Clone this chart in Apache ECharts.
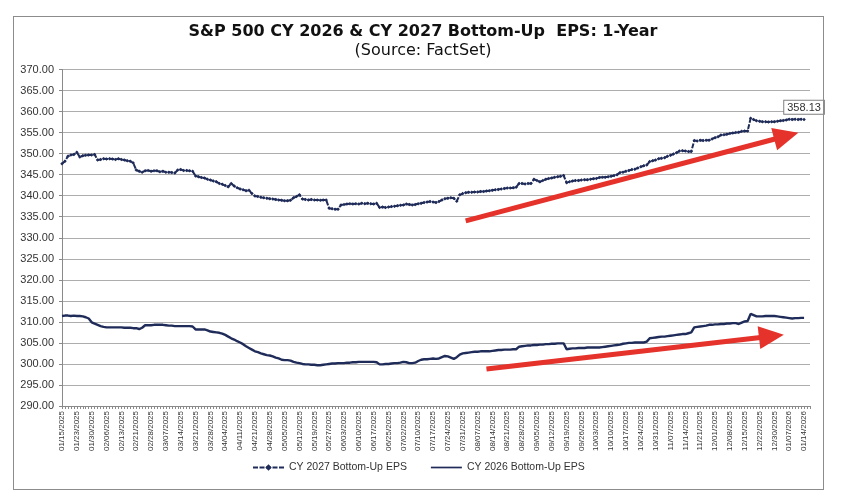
<!DOCTYPE html>
<html>
<head>
<meta charset="utf-8">
<script src="https://cdn.jsdelivr.net/npm/echarts@6/dist/echarts.min.js"></script>
<style>
  html, body { margin: 0; padding: 0; background: #fff; }
  #wrap { position: relative; width: 846px; height: 495px; }
  #chart { position: absolute; left: 0; top: 0; width: 846px; height: 495px; }
  #frame { position: absolute; left: 13px; top: 16px; width: 809px; height: 472px; border: 1px solid #8c8c8c; pointer-events: none; }
</style>
</head>
<body>
<div id="wrap"><div id="chart"></div><div id="frame"></div></div>
<script>
// ---- Data ----
const titleText = 'S&P 500 CY 2026 & CY 2027 Bottom-Up  EPS: 1-Year';
const subtitleText = '(Source: FactSet)';
const seriesNames = ['CY 2027 Bottom-Up EPS', 'CY 2026 Bottom-Up EPS'];

// NYSE trading days from 01/15/2025; holidays skipped
const startDate = [2025, 0, 15];
const categoryCount = 253;
const marketHolidays = ['2025-01-20','2025-02-17','2025-04-18','2025-05-26','2025-06-19','2025-07-04',
  '2025-09-01','2025-11-27','2025-12-25','2026-01-01','2026-01-19'];

const eps2027 = [
  347.6, 348.2, 349.4, 349.7, 349.8, 350.3, 349.2, 349.5, 349.6, 349.7,
  349.7, 349.8, 348.5, 348.6, 348.8, 348.7, 348.8, 348.7, 348.6, 348.8,
  348.6, 348.5, 348.3, 348.2, 347.8, 346.1, 345.8, 345.6, 345.9, 346.0,
  345.8, 345.9, 345.9, 345.7, 345.8, 345.6, 345.6, 345.5, 345.4, 346.1,
  346.2, 346.0, 346.0, 345.9, 345.8, 344.7, 344.5, 344.3, 344.2, 343.9,
  343.7, 343.5, 343.3, 342.9, 342.7, 342.4, 342.1, 342.9, 342.3, 341.9,
  341.6, 341.4, 341.2, 341.3, 340.5, 339.9, 339.8, 339.6, 339.5, 339.4,
  339.3, 339.2, 339.1, 339.0, 338.9, 338.8, 338.8, 338.9, 339.5, 339.8,
  340.2, 339.2, 339.1, 339.0, 339.1, 339.0, 339.0, 338.9, 339.0, 339.0,
  337.0, 336.9, 336.8, 336.8, 337.8, 337.9, 338.0, 338.1, 338.0, 338.1,
  338.0, 338.2, 338.1, 338.2, 338.1, 338.0, 338.2, 337.2, 337.3, 337.2,
  337.3, 337.4, 337.5, 337.6, 337.7, 337.8, 338.0, 337.9, 337.8, 337.9,
  338.1, 338.2, 338.4, 338.5, 338.6, 338.5, 338.4, 338.6, 339.0, 339.3,
  339.4, 339.5, 339.4, 338.7, 340.2, 340.5, 340.7, 340.8, 340.8, 340.9,
  340.9, 341.0, 341.0, 341.1, 341.2, 341.3, 341.4, 341.5, 341.6, 341.7,
  341.8, 341.8, 341.9, 342.0, 342.9, 342.9, 342.8, 342.9, 342.9, 343.9,
  343.6, 343.3, 343.6, 343.9, 344.1, 344.2, 344.4, 344.5, 344.6, 344.8,
  343.1, 343.3, 343.5, 343.6, 343.6, 343.7, 343.8, 343.8, 343.9, 344.0,
  344.1, 344.3, 344.4, 344.4, 344.5, 344.6, 344.8, 345.0, 345.5, 345.6,
  345.8, 346.0, 346.2, 346.3, 346.6, 346.9, 347.1, 347.3, 348.1, 348.3,
  348.5, 348.8, 348.9, 349.0, 349.4, 349.6, 349.9, 350.2, 350.6, 350.7,
  350.6, 350.5, 350.5, 353.1, 353.0, 353.2, 353.1, 353.2, 353.2, 353.5,
  353.8, 354.0, 354.4, 354.5, 354.6, 354.8, 354.9, 355.0, 355.1, 355.3,
  355.4, 355.4, 358.4, 358.1, 357.8, 357.7, 357.6, 357.6, 357.5, 357.6,
  357.6, 357.7, 357.8, 357.9, 358.0, 358.2, 358.1, 358.2, 358.1, 358.2, 358.13
];

const eps2026 = [
  311.4, 311.5, 311.5, 311.4, 311.5, 311.4, 311.4, 311.3, 311.1, 310.8,
  309.9, 309.6, 309.3, 309.0, 308.8, 308.7, 308.7, 308.7, 308.7, 308.7,
  308.7, 308.6, 308.6, 308.6, 308.5, 308.5, 308.3, 308.6, 309.2, 309.2,
  309.2, 309.3, 309.3, 309.3, 309.3, 309.2, 309.1, 309.1, 309.0, 309.0,
  309.0, 309.0, 309.0, 309.0, 308.9, 308.2, 308.2, 308.2, 308.2, 308.0,
  307.7, 307.6, 307.5, 307.4, 307.2, 306.9, 306.5, 306.1, 305.8, 305.4,
  305.1, 304.7, 304.2, 303.8, 303.4, 303.0, 302.8, 302.5, 302.3, 302.1,
  302.0, 301.8, 301.5, 301.3, 301.0, 300.9, 300.9, 300.8, 300.5, 300.3,
  300.2, 300.0, 299.9, 299.9, 299.8, 299.8, 299.7, 299.7, 299.8, 299.9,
  300.0, 300.1, 300.1, 300.2, 300.2, 300.2, 300.3, 300.3, 300.4, 300.4,
  300.5, 300.5, 300.5, 300.5, 300.5, 300.5, 300.4, 299.9, 299.9, 300.0,
  300.0, 300.1, 300.2, 300.2, 300.3, 300.5, 300.4, 300.2, 300.2, 300.3,
  300.7, 301.0, 301.1, 301.1, 301.2, 301.3, 301.2, 301.3, 301.6, 301.9,
  301.8, 301.5, 301.2, 301.6, 302.2, 302.5, 302.6, 302.7, 302.8, 302.9,
  302.9, 303.0, 303.0, 303.0, 303.0, 303.1, 303.2, 303.3, 303.3, 303.4,
  303.4, 303.4, 303.5, 303.5, 304.1, 304.2, 304.3, 304.4, 304.4, 304.5,
  304.5, 304.6, 304.6, 304.7, 304.7, 304.8, 304.8, 304.9, 304.9, 304.9,
  303.5, 303.6, 303.7, 303.7, 303.8, 303.8, 303.8, 303.9, 303.9, 303.9,
  303.9, 303.9, 304.0, 304.1, 304.2, 304.3, 304.4, 304.5, 304.6, 304.8,
  304.9, 305.0, 305.0, 305.1, 305.1, 305.1, 305.1, 305.3, 306.1, 306.2,
  306.3, 306.4, 306.5, 306.5, 306.6, 306.7, 306.8, 306.9, 307.0, 307.1,
  307.1, 307.3, 307.5, 308.7, 308.8, 308.9, 309.0, 309.1, 309.3, 309.3,
  309.4, 309.4, 309.5, 309.5, 309.6, 309.6, 309.7, 309.7, 309.5, 309.8,
  310.1, 310.2, 311.9, 311.6, 311.3, 311.3, 311.3, 311.4, 311.4, 311.4,
  311.4, 311.3, 311.2, 311.1, 311.0, 310.9, 310.8, 310.9, 310.9, 310.95, 310.95
];

// Red trend arrows: [startIndex, startValue, endIndex, endValue]
const arrowUpper = [136, 334.0, 244, 354.2];
const arrowLower = [143, 298.8, 239, 306.6];

const yMin = 290, yMax = 370, yStep = 5;

// ---- Build categories ----
function pad(n) { return (n < 10 ? '0' : '') + n; }
const categories = [];
(function () {
  const d = new Date(Date.UTC(startDate[0], startDate[1], startDate[2]));
  while (categories.length < categoryCount) {
    const dow = d.getUTCDay();
    const iso = d.getUTCFullYear() + '-' + pad(d.getUTCMonth() + 1) + '-' + pad(d.getUTCDate());
    if (dow !== 0 && dow !== 6 && marketHolidays.indexOf(iso) < 0) {
      categories.push(pad(d.getUTCMonth() + 1) + '/' + pad(d.getUTCDate()) + '/' + d.getUTCFullYear());
    }
    d.setUTCDate(d.getUTCDate() + 1);
  }
})();

const FONT = '"Liberation Sans", Arial, sans-serif';
const TITLE_FONT = '"DejaVu Sans", "Liberation Sans", Arial, sans-serif';
const NAVY = '#1f2b58';
const RED = '#e5322b';

function withEndLabel(arr) {
  return arr.map(function (v, i) {
    if (i === arr.length - 1) {
      return {
        value: v,
        label: {
          show: true, position: 'top', distance: 4,
          formatter: function (p) { return Number(p.value).toFixed(2); },
          backgroundColor: '#fff', borderColor: '#7f7f7f', borderWidth: 1,
          padding: [2, 3, 0, 3], color: '#333', fontSize: 11, fontFamily: FONT
        }
      };
    }
    return v;
  });
}

const chart = echarts.init(document.getElementById('chart'), null, { renderer: 'canvas' });
chart.setOption({
  backgroundColor: '#fff',
  animation: false,
  title: {
    text: titleText,
    subtext: subtitleText,
    left: 418, top: 19, textAlign: 'center',
    itemGap: 3,
    textStyle: { fontFamily: TITLE_FONT, fontSize: 16, fontWeight: 'bold', color: '#111' },
    subtextStyle: { fontFamily: TITLE_FONT, fontSize: 16, color: '#111' }
  },
  legend: {
    data: [
      { name: seriesNames[0] },
      { name: seriesNames[1], icon: 'path://M0,0 L0,0 M0,3.1 L33,3.1 L33,4.9 L0,4.9 Z M33,8 L33,8' }
    ],
    bottom: 17, left: 247,
    itemWidth: 31, itemHeight: 8, itemGap: 24,
    textStyle: { fontFamily: FONT, fontSize: 10.5, color: '#333' }
  },
  grid: { left: 62, right: 36, top: 69.5, bottom: 89, containLabel: false },
  xAxis: {
    type: 'category',
    data: categories,
    boundaryGap: false,
    axisLine: { lineStyle: { color: '#8a8a8a', width: 1 } },
    axisTick: { show: true, interval: 0, length: 3, lineStyle: { color: '#8a8a8a' } },
    axisLabel: { interval: 4, rotate: 90, fontFamily: FONT, fontSize: 8, color: '#333', margin: 5 },
    splitLine: { show: false }
  },
  yAxis: {
    type: 'value',
    min: yMin, max: yMax, interval: yStep,
    axisLine: { show: true, lineStyle: { color: '#8a8a8a' } },
    axisTick: { show: true, length: 3, lineStyle: { color: '#8a8a8a' } },
    axisLabel: { formatter: function (v) { return v.toFixed(2); }, fontFamily: FONT, fontSize: 11, color: '#333', margin: 8 },
    splitLine: { lineStyle: { color: '#adadad', width: 1 } }
  },
  series: [
    {
      name: seriesNames[0], type: 'line', data: withEndLabel(eps2027),
      showSymbol: true, showAllSymbol: true, symbol: 'diamond', symbolSize: 3.5,
      itemStyle: { color: NAVY },
      lineStyle: { color: NAVY, width: 2, type: [5, 1.5] },
      z: 3
    },
    {
      name: seriesNames[1], type: 'line', data: withEndLabel(eps2026),
      showSymbol: false, symbol: 'none',
      itemStyle: { color: NAVY },
      lineStyle: { color: NAVY, width: 2.4 },
      z: 3
    },
    {
      name: 'arrows', type: 'line', data: [],
      markLine: {
        silent: true, animation: false,
        symbol: ['none', 'triangle'], symbolSize: [23, 25],
        lineStyle: { color: RED, width: 5, type: 'solid', opacity: 1 },
        itemStyle: { color: RED },
        label: { show: false },
        emphasis: { disabled: true },
        data: [
          [{ coord: [arrowUpper[0], arrowUpper[1]] }, { coord: [arrowUpper[2], arrowUpper[3]] }],
          [{ coord: [arrowLower[0], arrowLower[1]] }, { coord: [arrowLower[2], arrowLower[3]] }]
        ]
      },
      z: 4
    }
  ]
});
</script>
</body>
</html>
